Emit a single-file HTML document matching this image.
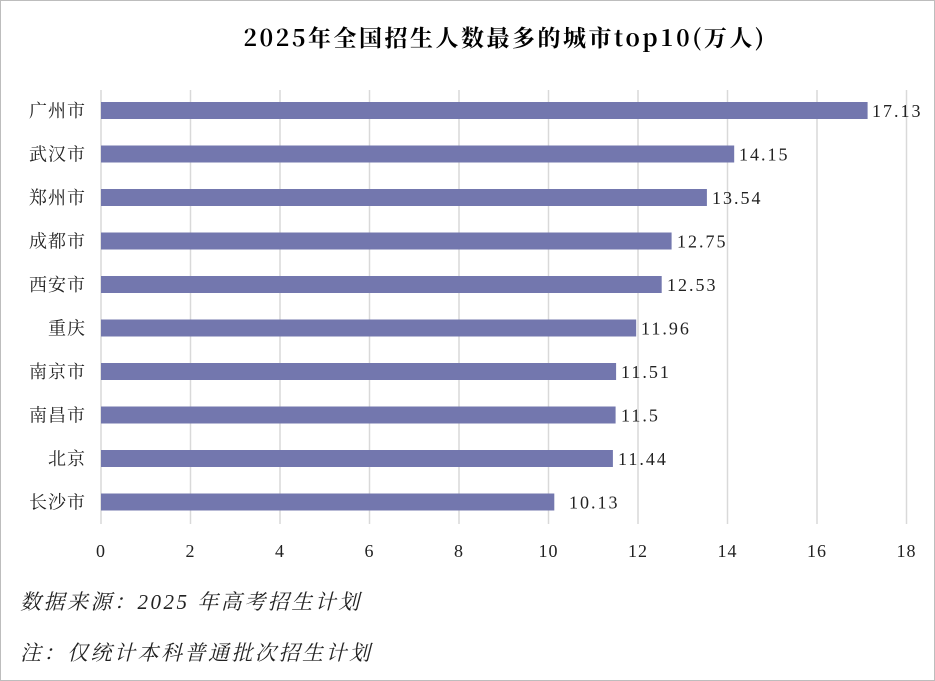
<!DOCTYPE html>
<html><head><meta charset="utf-8"><style>
body{margin:0;background:#fff;}
svg{display:block;}
text{font-family:"Liberation Serif","Noto Serif CJK SC",serif;}
</style></head><body>
<svg width="935" height="681" xmlns="http://www.w3.org/2000/svg">
<rect x="0.5" y="0.5" width="934" height="680" fill="#fff" stroke="#bdbdbd"/>
<text x="505" y="46" text-anchor="middle" font-size="23" font-weight="bold" fill="#000" letter-spacing="2.5" style="font-family:'Noto Serif CJK SC',serif">2025年全国招生人数最多的城市top10(万人)</text>
<g stroke="#d9d9d9" stroke-width="1.5">
<line x1="101" y1="90" x2="101" y2="524"/>
<line x1="190.5" y1="90" x2="190.5" y2="524"/>
<line x1="280" y1="90" x2="280" y2="524"/>
<line x1="369.5" y1="90" x2="369.5" y2="524"/>
<line x1="459" y1="90" x2="459" y2="524"/>
<line x1="548.5" y1="90" x2="548.5" y2="524"/>
<line x1="638" y1="90" x2="638" y2="524"/>
<line x1="727.5" y1="90" x2="727.5" y2="524"/>
<line x1="817" y1="90" x2="817" y2="524"/>
<line x1="906.5" y1="90" x2="906.5" y2="524"/>
</g>
<g font-size="18" fill="#222" text-anchor="middle" letter-spacing="1">
<text x="101" y="557">0</text><text x="190.5" y="557">2</text><text x="280" y="557">4</text>
<text x="369.5" y="557">6</text><text x="459" y="557">8</text><text x="548.5" y="557">10</text>
<text x="638" y="557">12</text><text x="727.5" y="557">14</text><text x="817" y="557">16</text><text x="906.5" y="557">18</text>
</g>
<g fill="#7377ae">
<rect x="101" y="102" width="766.6" height="17"/>
<rect x="101" y="145.5" width="633.2" height="17"/>
<rect x="101" y="189" width="605.9" height="17"/>
<rect x="101" y="232.5" width="570.6" height="17"/>
<rect x="101" y="276" width="560.7" height="17"/>
<rect x="101" y="319.5" width="535.2" height="17"/>
<rect x="101" y="363" width="515.1" height="17"/>
<rect x="101" y="406.5" width="514.6" height="17"/>
<rect x="101" y="450" width="511.9" height="17"/>
<rect x="101" y="493.5" width="453.3" height="17"/>
</g>
<g font-size="18" fill="#222" letter-spacing="2">
<text x="872" y="117">17.13</text>
<text x="739" y="160.5">14.15</text>
<text x="712" y="204">13.54</text>
<text x="677" y="247.5">12.75</text>
<text x="667" y="291">12.53</text>
<text x="641" y="334.5">11.96</text>
<text x="621" y="378">11.51</text>
<text x="621" y="421.5">11.5</text>
<text x="618" y="465">11.44</text>
<text x="569" y="508.5">10.13</text>
</g>
<g font-size="18" fill="#222" text-anchor="end" letter-spacing="1" style="font-family:'Noto Sans CJK SC',sans-serif">
<text x="86" y="117">广州市</text>
<text x="86" y="160.5">武汉市</text>
<text x="86" y="204">郑州市</text>
<text x="86" y="247.5">成都市</text>
<text x="86" y="291">西安市</text>
<text x="86" y="334.5">重庆</text>
<text x="86" y="378">南京市</text>
<text x="86" y="421.5">南昌市</text>
<text x="86" y="465">北京</text>
<text x="86" y="508.5">长沙市</text>
</g>
<g font-size="21" fill="#222" font-style="italic" letter-spacing="2.5">
<text x="20" y="609">数据来源：2025 年高考招生计划</text>
<text x="20" y="660">注：仅统计本科普通批次招生计划</text>
</g>
</svg>
</body></html>
